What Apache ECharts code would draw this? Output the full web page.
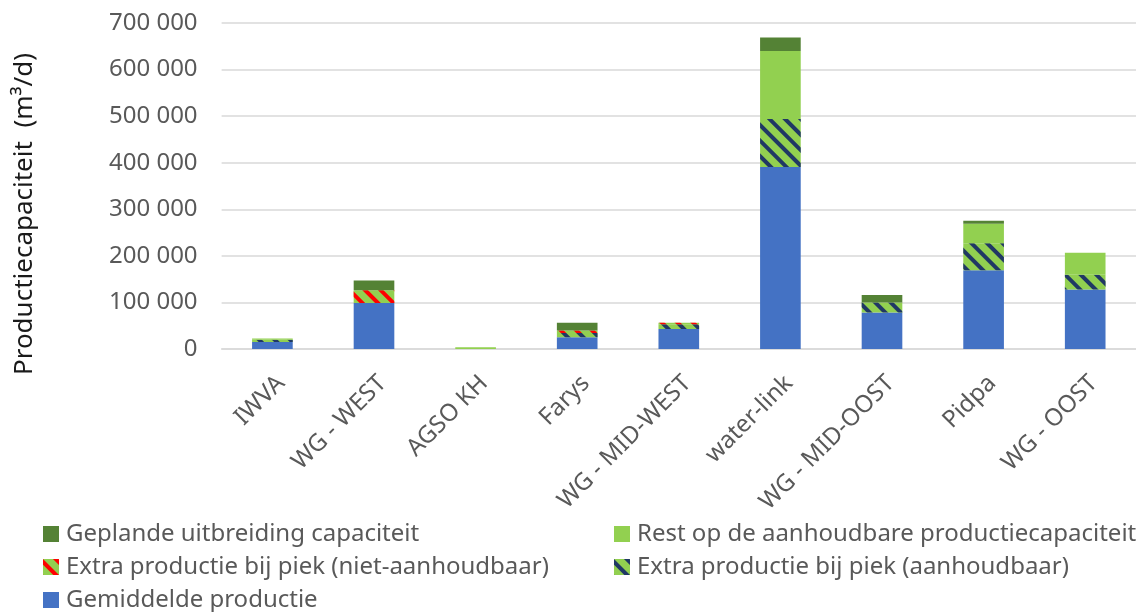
<!DOCTYPE html>
<html>
<head>
<meta charset="utf-8">
<script src="https://cdn.jsdelivr.net/npm/echarts@6/dist/echarts.min.js"></script>
<style>
  html, body { margin: 0; padding: 0; background: #fff; }
  #chart { width: 1136px; height: 612px; }
</style>
</head>
<body>
<div id="chart"></div>
<script>
// categorieën en waarden (m³/d)
const categories = ['IWVA', 'WG - WEST', 'AGSO KH', 'Farys', 'WG - MID-WEST', 'water-link', 'WG - MID-OOST', 'Pidpa', 'WG - OOST'];
const gemiddelde = [15000, 99000, 0, 25000, 43000, 391000, 78500, 169000, 128000];
const piekAanhoudbaar = [5000, 0, 0, 9500, 10000, 103000, 21500, 58000, 31500];
const piekNietAanhoudbaar = [0, 27000, 0, 5000, 3500, 0, 0, 0, 0];
const restCapaciteit = [2500, 0, 4000, 0, 0, 146000, 0, 42000, 47000];
const geplandeUitbreiding = [0, 21000, 0, 17000, 0, 29000, 16000, 6500, 0];

const names = {
  gem: 'Gemiddelde productie',
  aanh: 'Extra productie bij piek (aanhoudbaar)',
  niet: 'Extra productie bij piek (niet-aanhoudbaar)',
  rest: 'Rest op de aanhoudbare productiecapaciteit',
  gepl: 'Geplande uitbreiding capaciteit'
};

const FONT = 'Noto Sans';
const GREY = '#595959';

const chart = echarts.init(document.getElementById('chart'));

// schuine arcering (linksboven -> rechtsonder)
function stripes(color) {
  return {
    symbol: 'rect',
    symbolSize: 1,
    color: color,
    dashArrayX: [1, 0],
    dashArrayY: [4, 7],
    rotation: Math.PI / 4
  };
}

const legendBase = {
  orient: 'vertical',
  top: 522,
  height: 120,
  padding: 0,
  itemWidth: 16,
  itemHeight: 16,
  itemGap: 9,
  icon: 'rect',
  textStyle: { color: GREY, fontSize: 24, fontFamily: FONT, padding: [0, 0, 0, 2] }
};

const option = {
  animation: false,
  textStyle: { fontFamily: FONT },
  grid: { left: 221.6, right: -2, top: 23, bottom: 263, containLabel: false },
  xAxis: {
    type: 'category',
    data: categories,
    axisLine: { lineStyle: { color: '#d9d9d9', width: 1.5 } },
    axisTick: { show: false },
    axisLabel: {
      rotate: 45,
      interval: 0,
      margin: 22,
      align: 'right',
      verticalAlign: 'top',
      color: GREY,
      fontSize: 24,
      fontFamily: FONT
    }
  },
  yAxis: {
    type: 'value',
    min: 0,
    max: 700000,
    interval: 100000,
    axisLine: { show: false },
    axisTick: { show: false },
    splitLine: { lineStyle: { color: '#d9d9d9', width: 1.5 } },
    axisLabel: {
      margin: 24,
      color: GREY,
      fontSize: 24,
      fontFamily: FONT,
      formatter: v => String(v).replace(/\B(?=(\d{3})+(?!\d))/g, ' ')
    }
  },
  legend: [
    Object.assign({}, legendBase, { left: 43, data: [names.gepl, names.niet, names.gem] }),
    Object.assign({}, legendBase, { left: 614, data: [names.rest, names.aanh] })
  ],
  graphic: [{
    type: 'text',
    x: 25,
    y: 214,
    rotation: Math.PI / 2,
    style: {
      text: 'Productiecapaciteit  (m³/d)',
      fill: '#1a1a1a',
      font: '26px "Noto Sans"',
      textAlign: 'center',
      textVerticalAlign: 'middle'
    }
  }],
  series: [
    { name: names.gem, type: 'bar', stack: 'totaal', barWidth: '40%', data: gemiddelde,
      itemStyle: { color: '#4472c4' } },
    { name: names.aanh, type: 'bar', stack: 'totaal', data: piekAanhoudbaar,
      itemStyle: { color: '#92d050', decal: stripes('#203864') } },
    { name: names.niet, type: 'bar', stack: 'totaal', data: piekNietAanhoudbaar,
      itemStyle: { color: '#92d050', decal: stripes('#ff0000') } },
    { name: names.rest, type: 'bar', stack: 'totaal', data: restCapaciteit,
      itemStyle: { color: '#92d050' } },
    { name: names.gepl, type: 'bar', stack: 'totaal', data: geplandeUitbreiding,
      itemStyle: { color: '#548235' } }
  ]
};

chart.setOption(option);
</script>
</body>
</html>
